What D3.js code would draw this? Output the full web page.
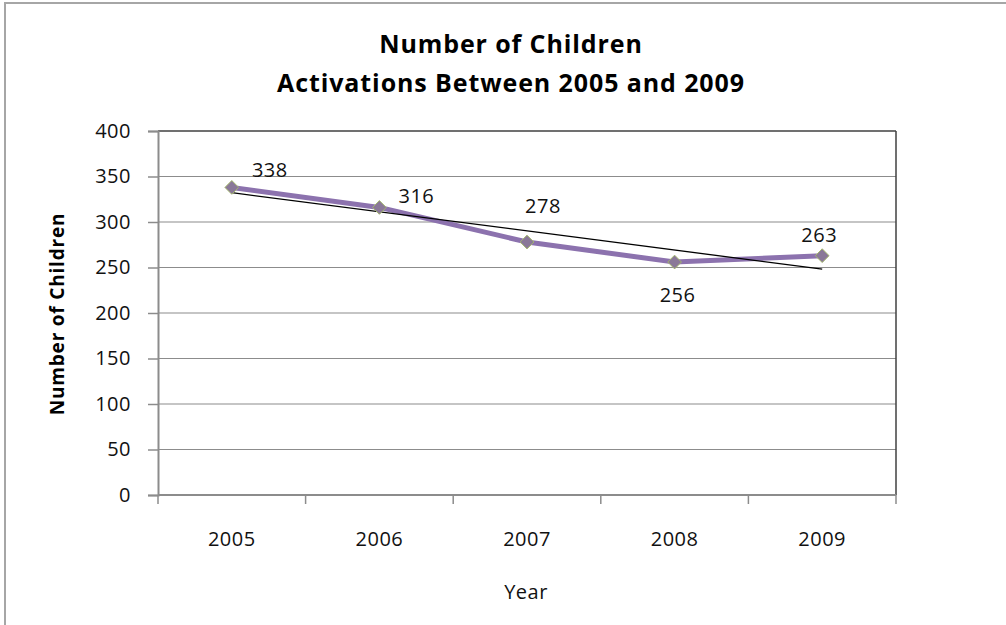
<!DOCTYPE html>
<html>
<head>
<meta charset="utf-8">
<script src="https://cdn.jsdelivr.net/npm/d3@7"></script>
<style>
  html, body { margin: 0; padding: 0; background: #fff; }
  svg { display: block; font-family: "Open Sans", Lato, sans-serif; }
</style>
</head>
<body>
<div class="chart"></div>
<script>
// dati del grafico
const years = ["2005", "2006", "2007", "2008", "2009"];
const children = [338, 316, 278, 256, 263];
const yTicks = [0, 50, 100, 150, 200, 250, 300, 350, 400];

const width = 1006;
const height = 625;
const margin = { top: 131, right: 110, bottom: 130, left: 158 };
const plotW = width - margin.left - margin.right;
const plotH = height - margin.top - margin.bottom;

// spostamento delle etichette dei valori rispetto al punto (come in Excel)
const labelOffsets = [[38, -10], [37, -4], [16, -29], [3, 40], [-3, -14]];

const svg = d3.select('.chart').append('svg')
    .attr('width', width)
    .attr('height', height);

// bordo esterno
svg.append('rect')
    .attr('x', 5).attr('y', 3)
    .attr('width', width + 10).attr('height', height + 10)
    .attr('fill', 'none')
    .attr('stroke', '#a6a6a6')
    .attr('stroke-width', 2);

// titolo
const title = svg.append('text')
    .attr('text-anchor', 'middle')
    .attr('font-weight', 'bold')
    .attr('font-size', 25)
    .attr('letter-spacing', 0.9)
    .attr('fill', '#000');
title.append('tspan').attr('x', 511).attr('y', 53).text('Number of Children');
title.append('tspan').attr('x', 511).attr('y', 92).text('Activations Between 2005 and 2009');

const g = svg.append('g')
    .attr('transform', `translate(${margin.left}, ${margin.top})`);

const x = d3.scaleBand()
    .domain(years)
    .range([0, plotW]);

const y = d3.scaleLinear()
    .domain([0, 400])
    .range([plotH, 0]);

// griglia orizzontale
g.selectAll('.grid')
    .data(yTicks.filter(d => d > 0))
    .enter()
    .append('line')
    .attr('x1', 0).attr('x2', plotW)
    .attr('y1', d => y(d)).attr('y2', d => y(d))
    .attr('stroke', d => d === 400 ? '#404040' : '#8c8c8c')
    .attr('stroke-width', d => d === 400 ? 1.5 : 1.2);

// bordo destro dell'area del grafico
g.append('line')
    .attr('x1', plotW).attr('x2', plotW)
    .attr('y1', 0).attr('y2', plotH)
    .attr('stroke', '#404040')
    .attr('stroke-width', 1.5);

// asse y
const yAxis = g.append('g')
    .call(d3.axisLeft(y).tickValues(yTicks).tickSize(10).tickPadding(17));
yAxis.select('.domain').attr('stroke', '#8c8c8c').attr('stroke-width', 2);
yAxis.selectAll('.tick line').attr('stroke', '#8c8c8c').attr('stroke-width', 1.5);
yAxis.selectAll('.tick text')
    .attr('font-size', 20)
    .attr('font-family', '"Open Sans", Lato, sans-serif')
    .attr('letter-spacing', 0.5)
    .attr('fill', '#111');

// asse x (tacche ai bordi delle categorie)
const xAxisG = g.append('g').attr('transform', `translate(0, ${plotH})`);
xAxisG.append('line')
    .attr('x1', 0).attr('x2', plotW)
    .attr('stroke', '#8c8c8c').attr('stroke-width', 2);
const edges = years.map(d => x(d)).concat([plotW]);
xAxisG.selectAll('.xtick')
    .data(edges)
    .enter()
    .append('line')
    .attr('x1', d => d).attr('x2', d => d)
    .attr('y1', 0).attr('y2', 9)
    .attr('stroke', '#8c8c8c').attr('stroke-width', 1.5);
xAxisG.selectAll('.xlabel')
    .data(years)
    .enter()
    .append('text')
    .attr('x', d => x(d) + x.bandwidth() / 2)
    .attr('y', 51)
    .attr('text-anchor', 'middle')
    .attr('font-size', 20)
    .attr('letter-spacing', 0.5)
    .attr('fill', '#111')
    .text(d => d);

// titoli degli assi
svg.append('text')
    .attr('transform', 'translate(64, 314) rotate(-90)')
    .attr('text-anchor', 'middle')
    .attr('font-weight', 'bold')
    .attr('font-size', 19)
    .attr('letter-spacing', 0.8)
    .attr('fill', '#000')
    .text('Number of Children');

svg.append('text')
    .attr('x', 526)
    .attr('y', 599)
    .attr('text-anchor', 'middle')
    .attr('font-size', 20)
    .attr('letter-spacing', 0.5)
    .attr('fill', '#111')
    .text('Year');

const cx = d => x(d) + x.bandwidth() / 2;
const pts = years.map((d, i) => ({ year: d, value: children[i], off: labelOffsets[i] }));

// serie
const line = d3.line()
    .x(d => cx(d.year))
    .y(d => y(d.value));

g.append('path')
    .datum(pts)
    .attr('d', line)
    .attr('fill', 'none')
    .attr('stroke', '#8c72ae')
    .attr('stroke-width', 5)
    .attr('stroke-linejoin', 'round');

// linea di tendenza (regressione lineare)
const n = children.length;
const xm = d3.mean(children, (d, i) => i);
const ym = d3.mean(children);
const slope = d3.sum(children, (d, i) => (i - xm) * (d - ym)) / d3.sum(children, (d, i) => (i - xm) * (i - xm));
const inter = ym - slope * xm;
g.append('line')
    .attr('x1', cx(years[0])).attr('y1', y(inter))
    .attr('x2', cx(years[n - 1])).attr('y2', y(inter + slope * (n - 1)))
    .attr('stroke', '#000')
    .attr('stroke-width', 1.3);

// marcatori a rombo
g.selectAll('.marker')
    .data(pts)
    .enter()
    .append('path')
    .attr('d', d3.symbol().type(d3.symbolDiamond2).size(120))
    .attr('transform', d => `translate(${cx(d.year)}, ${y(d.value)})`)
    .attr('fill', '#8a7898')
    .attr('stroke', '#a3b86c')
    .attr('stroke-width', 1);

// etichette dei valori
g.selectAll('.vlabel')
    .data(pts)
    .enter()
    .append('text')
    .attr('x', d => cx(d.year) + d.off[0])
    .attr('y', d => y(d.value) + d.off[1])
    .attr('text-anchor', 'middle')
    .attr('font-size', 20)
    .attr('letter-spacing', 0.5)
    .attr('fill', '#111')
    .text(d => d.value);
</script>
</body>
</html>
